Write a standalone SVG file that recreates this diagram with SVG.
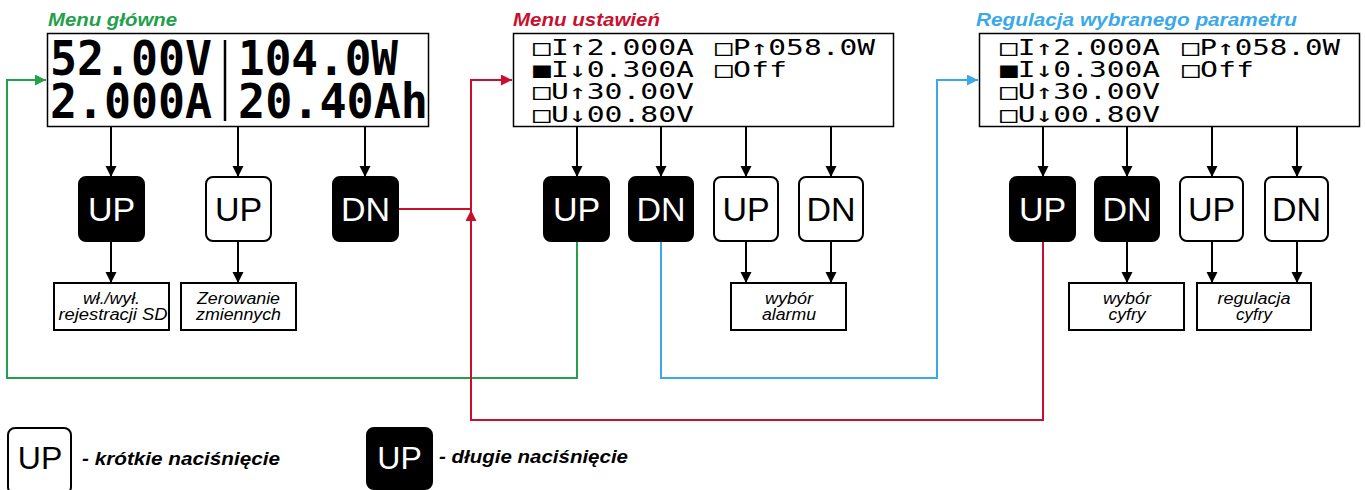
<svg xmlns="http://www.w3.org/2000/svg" width="1366" height="490" viewBox="0 0 1366 490">
<style>
.bg{fill:#fff}
.scr{fill:#fff;stroke:#000;stroke-width:1.5}
.lcd1{font-family:"DejaVu Sans Mono",monospace;font-weight:bold;font-size:48px;fill:#000}
.lcd{font-family:"DejaVu Sans Mono",monospace;font-size:21px;fill:#000}
.title{font-family:"Liberation Sans",Arial,sans-serif;font-weight:bold;font-style:italic;font-size:18px}
.btnB{fill:#000;stroke:#000;stroke-width:2}
.btnW{fill:#fff;stroke:#000;stroke-width:2}
.btT{font-family:"Liberation Sans",Arial,sans-serif;font-size:34px;text-anchor:middle}
.box{fill:#fff;stroke:#000;stroke-width:2}
.boxT{font-family:"Liberation Sans",Arial,sans-serif;font-style:italic;font-size:16px;text-anchor:middle;fill:#000}
.leg{font-family:"Liberation Sans",Arial,sans-serif;font-weight:bold;font-style:italic;font-size:18px;fill:#000}
.ar{fill:none;stroke:#000;stroke-width:2;marker-end:url(#mk)}
.g{fill:none;stroke:#22a04b;stroke-width:2}
.r{fill:none;stroke:#c8102e;stroke-width:2}
.b{fill:none;stroke:#3aa9e8;stroke-width:2}
</style>
<defs>
<marker id="mk" markerUnits="userSpaceOnUse" markerWidth="12" markerHeight="12" refX="11" refY="5.5" orient="auto"><path d="M0,0 L11,5.5 L0,11 z" fill="#000"/></marker>
<marker id="mkG" markerUnits="userSpaceOnUse" markerWidth="12" markerHeight="12" refX="11" refY="5.5" orient="auto"><path d="M0,0 L11,5.5 L0,11 z" fill="#22a04b"/></marker>
<marker id="mkR" markerUnits="userSpaceOnUse" markerWidth="12" markerHeight="12" refX="11" refY="5.5" orient="auto"><path d="M0,0 L11,5.5 L0,11 z" fill="#c8102e"/></marker>
<marker id="mkB" markerUnits="userSpaceOnUse" markerWidth="12" markerHeight="12" refX="11" refY="5.5" orient="auto"><path d="M0,0 L11,5.5 L0,11 z" fill="#3aa9e8"/></marker>
</defs>
<rect class="bg" x="0" y="0" width="1366" height="490"/>

<g id="connectors">
<path class="g" d="M577,241 V378 H7 V80 H46" marker-end="url(#mkG)"/>
<path class="b" d="M661,241 V378 H937 V80 H978" marker-end="url(#mkB)"/>
<path class="r" d="M398,209 H471"/>
<path class="r" d="M1043,241 V420 H471 V210" marker-end="url(#mkR)"/>
<path class="r" d="M471,211 V80 H512" marker-end="url(#mkR)"/>
<path class="ar" d="M111,127 V177"/>
<path class="ar" d="M238,127 V177"/>
<path class="ar" d="M365,127 V177"/>
<path class="ar" d="M111,241 V283"/>
<path class="ar" d="M238,241 V283"/>
<path class="ar" d="M577,127 V177"/>
<path class="ar" d="M661,127 V177"/>
<path class="ar" d="M746,127 V177"/>
<path class="ar" d="M831,127 V177"/>
<path class="ar" d="M746,241 V283"/>
<path class="ar" d="M831,241 V283"/>
<path class="ar" d="M1043,127 V177"/>
<path class="ar" d="M1127,127 V177"/>
<path class="ar" d="M1212,127 V177"/>
<path class="ar" d="M1297,127 V177"/>
<path class="ar" d="M1127,241 V283"/>
<path class="ar" d="M1212,241 V283"/>
<path class="ar" d="M1297,241 V283"/>
</g>

<g id="screen-main">
<text class="title" x="48" y="26" fill="#22a04b" textLength="129" lengthAdjust="spacingAndGlyphs">Menu główne</text>
<rect class="scr" x="47.5" y="33.5" width="381" height="93"/>
<text class="lcd1" x="50" y="75" textLength="162" lengthAdjust="spacingAndGlyphs">52.00V</text>
<text class="lcd1" x="238" y="75" textLength="160" lengthAdjust="spacingAndGlyphs">104.0W</text>
<text class="lcd1" x="50" y="118" textLength="162" lengthAdjust="spacingAndGlyphs">2.000A</text>
<text class="lcd1" x="238" y="118" textLength="190" lengthAdjust="spacingAndGlyphs">20.40Ah</text>
<line x1="225" y1="40" x2="225" y2="121" stroke="#000" stroke-width="2.5"/>
</g>

<g id="screen-settings">
<text class="title" x="513" y="26" fill="#c8102e" textLength="147" lengthAdjust="spacingAndGlyphs">Menu ustawień</text>
<rect class="scr" x="513.5" y="33.5" width="380" height="93"/>
<text class="lcd" x="533" y="55" textLength="161" lengthAdjust="spacingAndGlyphs">□I↑2.000A</text>
<text class="lcd" x="715" y="55" textLength="160" lengthAdjust="spacingAndGlyphs">□P↑058.0W</text>
<text class="lcd" x="533" y="77" textLength="161" lengthAdjust="spacingAndGlyphs">■I↓0.300A</text>
<text class="lcd" x="715" y="77" textLength="72" lengthAdjust="spacingAndGlyphs">□Off</text>
<text class="lcd" x="533" y="99" textLength="161" lengthAdjust="spacingAndGlyphs">□U↑30.00V</text>
<text class="lcd" x="533" y="122" textLength="161" lengthAdjust="spacingAndGlyphs">□U↓00.80V</text>
</g>

<g id="screen-adjust">
<text class="title" x="976" y="26" fill="#3aa9e8" textLength="321" lengthAdjust="spacingAndGlyphs">Regulacja wybranego parametru</text>
<rect class="scr" x="979.5" y="33.5" width="380" height="93"/>
<text class="lcd" x="1000" y="55" textLength="160" lengthAdjust="spacingAndGlyphs">□I↑2.000A</text>
<text class="lcd" x="1182" y="55" textLength="158" lengthAdjust="spacingAndGlyphs">□P↑058.0W</text>
<text class="lcd" x="1000" y="77" textLength="160" lengthAdjust="spacingAndGlyphs">■I↓0.300A</text>
<text class="lcd" x="1182" y="77" textLength="72" lengthAdjust="spacingAndGlyphs">□Off</text>
<text class="lcd" x="1000" y="99" textLength="160" lengthAdjust="spacingAndGlyphs">□U↑30.00V</text>
<text class="lcd" x="1000" y="122" textLength="160" lengthAdjust="spacingAndGlyphs">□U↓00.80V</text>
</g>

<g id="btn-m-up-long"><rect class="btnB" x="79" y="177" width="65" height="64" rx="7"/><text class="btT" x="111.5" y="221" fill="#fff">UP</text></g>
<g id="btn-m-up-short"><rect class="btnW" x="206" y="177" width="65" height="64" rx="7"/><text class="btT" x="238.5" y="221" fill="#000">UP</text></g>
<g id="btn-m-dn-long"><rect class="btnB" x="333" y="177" width="65" height="64" rx="7"/><text class="btT" x="365.5" y="221" fill="#fff">DN</text></g>

<g id="btn-s-up-long"><rect class="btnB" x="544" y="177" width="65" height="64" rx="7"/><text class="btT" x="576.5" y="221" fill="#fff">UP</text></g>
<g id="btn-s-dn-long"><rect class="btnB" x="629" y="177" width="64" height="64" rx="7"/><text class="btT" x="661" y="221" fill="#fff">DN</text></g>
<g id="btn-s-up-short"><rect class="btnW" x="714" y="177" width="64" height="64" rx="7"/><text class="btT" x="746" y="221" fill="#000">UP</text></g>
<g id="btn-s-dn-short"><rect class="btnW" x="799" y="177" width="64" height="64" rx="7"/><text class="btT" x="831" y="221" fill="#000">DN</text></g>

<g id="btn-a-up-long"><rect class="btnB" x="1010" y="177" width="65" height="64" rx="7"/><text class="btT" x="1042.5" y="221" fill="#fff">UP</text></g>
<g id="btn-a-dn-long"><rect class="btnB" x="1095" y="177" width="64" height="64" rx="7"/><text class="btT" x="1127" y="221" fill="#fff">DN</text></g>
<g id="btn-a-up-short"><rect class="btnW" x="1180" y="177" width="63" height="64" rx="7"/><text class="btT" x="1211.5" y="221" fill="#000">UP</text></g>
<g id="btn-a-dn-short"><rect class="btnW" x="1265" y="177" width="63" height="64" rx="7"/><text class="btT" x="1296.5" y="221" fill="#000">DN</text></g>

<g id="box-sd"><rect class="box" x="54" y="283" width="115" height="47"/><text class="boxT" x="111.5" y="304" textLength="57" lengthAdjust="spacingAndGlyphs">wł./wył.</text><text class="boxT" x="113" y="320" textLength="109" lengthAdjust="spacingAndGlyphs">rejestracji SD</text></g>
<g id="box-zero"><rect class="box" x="181" y="283" width="115" height="47"/><text class="boxT" x="238.5" y="304" textLength="83" lengthAdjust="spacingAndGlyphs">Zerowanie</text><text class="boxT" x="238.5" y="320" textLength="85" lengthAdjust="spacingAndGlyphs">zmiennych</text></g>
<g id="box-alarm"><rect class="box" x="731" y="283" width="115" height="47"/><text class="boxT" x="789" y="304" textLength="48" lengthAdjust="spacingAndGlyphs">wybór</text><text class="boxT" x="789" y="320" textLength="54" lengthAdjust="spacingAndGlyphs">alarmu</text></g>
<g id="box-digit"><rect class="box" x="1069" y="283" width="115" height="47"/><text class="boxT" x="1127" y="304" textLength="48" lengthAdjust="spacingAndGlyphs">wybór</text><text class="boxT" x="1127" y="320" textLength="37" lengthAdjust="spacingAndGlyphs">cyfry</text></g>
<g id="box-reg"><rect class="box" x="1197" y="283" width="114" height="47"/><text class="boxT" x="1254" y="304" textLength="73" lengthAdjust="spacingAndGlyphs">regulacja</text><text class="boxT" x="1254" y="320" textLength="36" lengthAdjust="spacingAndGlyphs">cyfry</text></g>

<g id="legend-short"><rect class="btnW" x="8" y="428" width="63" height="66" rx="7"/><text x="40" y="469" font-family="'Liberation Sans',Arial,sans-serif" font-size="32" text-anchor="middle" fill="#000">UP</text><text class="leg" x="82" y="465" textLength="198" lengthAdjust="spacingAndGlyphs">- krótkie naciśnięcie</text></g>
<g id="legend-long"><rect class="btnB" x="367" y="428" width="65" height="61" rx="7"/><text x="399.5" y="469" font-family="'Liberation Sans',Arial,sans-serif" font-size="32" text-anchor="middle" fill="#fff">UP</text><text class="leg" x="439" y="463" textLength="189" lengthAdjust="spacingAndGlyphs">- długie naciśnięcie</text></g>
</svg>
